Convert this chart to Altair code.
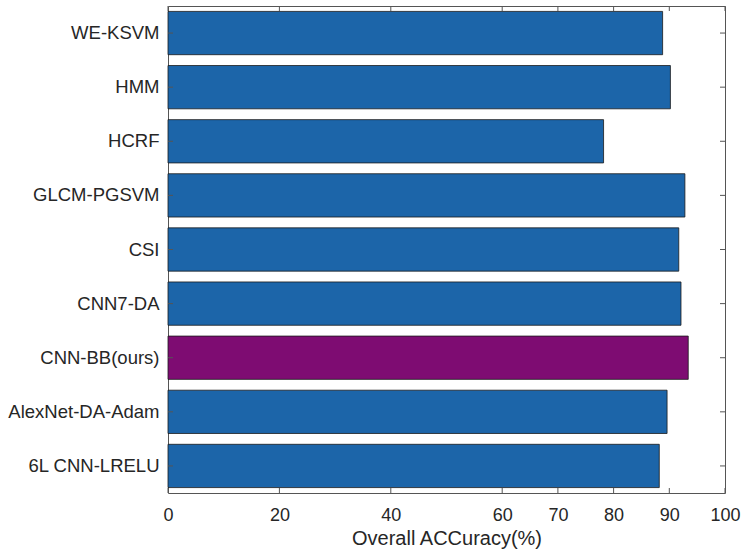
import altair as alt
import pandas as pd

categories = ["WE-KSVM", "HMM", "HCRF", "GLCM-PGSVM", "CSI", "CNN7-DA",
              "CNN-BB(ours)", "AlexNet-DA-Adam", "6L CNN-LRELU"]
values = [88.8, 90.2, 78.2, 92.8, 91.7, 92.1, 93.4, 89.6, 88.2]
groups = ["other", "other", "other", "other", "other", "other",
          "ours", "other", "other"]
x_ticks = [0, 20, 40, 60, 70, 80, 90, 100]

df = pd.DataFrame({"method": categories, "acc": values, "group": groups})
tick_df = pd.DataFrame({"t": x_ticks})

W, H = 557, 487
FONT = "Liberation Sans"
xscale = alt.Scale(domain=[0, 100], nice=False, zero=True)
yscale = alt.Scale(paddingInner=0.2, paddingOuter=0.1)

bars = alt.Chart(df).mark_bar(stroke="#1a1a1a", strokeWidth=0.8).encode(
    x=alt.X("acc:Q", scale=xscale,
            axis=alt.Axis(values=x_ticks, title="Overall ACCuracy(%)",
                          grid=False, ticks=False, domain=False,
                          labelFlush=False, labelOverlap=False,
                          labelPadding=13, labelFontSize=18,
                          titleFontSize=20, titleFontWeight="normal",
                          titlePadding=4, labelColor="#262626",
                          titleColor="#262626", labelFont=FONT,
                          titleFont=FONT)),
    y=alt.Y("method:N", sort=categories, scale=yscale,
            axis=alt.Axis(title=None, ticks=False, domain=False, grid=False,
                          labelPadding=9, labelFontSize=18.5,
                          labelColor="#262626", labelFont=FONT)),
    color=alt.Color("group:N",
                    scale=alt.Scale(domain=["other", "ours"],
                                    range=["#1c65a9", "#7e0c72"]),
                    legend=None),
)

tick_color = "#555555"
xt_bottom = alt.Chart(tick_df).mark_rule(color=tick_color, strokeWidth=1).encode(
    x=alt.X("t:Q", scale=xscale), y=alt.value(H), y2=alt.value(H - 5))
xt_top = alt.Chart(tick_df).mark_rule(color=tick_color, strokeWidth=1).encode(
    x=alt.X("t:Q", scale=xscale), y=alt.value(0), y2=alt.value(5))
yt_left = alt.Chart(df).mark_rule(color=tick_color, strokeWidth=1).encode(
    y=alt.Y("method:N", sort=categories, scale=yscale),
    x=alt.value(0), x2=alt.value(5))
yt_right = alt.Chart(df).mark_rule(color=tick_color, strokeWidth=1).encode(
    y=alt.Y("method:N", sort=categories, scale=yscale),
    x=alt.value(W), x2=alt.value(W - 5))

chart = alt.layer(bars, xt_bottom, xt_top, yt_left, yt_right).properties(
    width=W, height=H,
    autosize=alt.AutoSizeParams(type="none"),
    padding={"left": 168, "top": 6, "right": 19, "bottom": 62},
    background="white",
).configure_view(stroke="#555555", strokeWidth=1)

chart.save("out.html", embed_options={"renderer": "svg", "actions": False})
